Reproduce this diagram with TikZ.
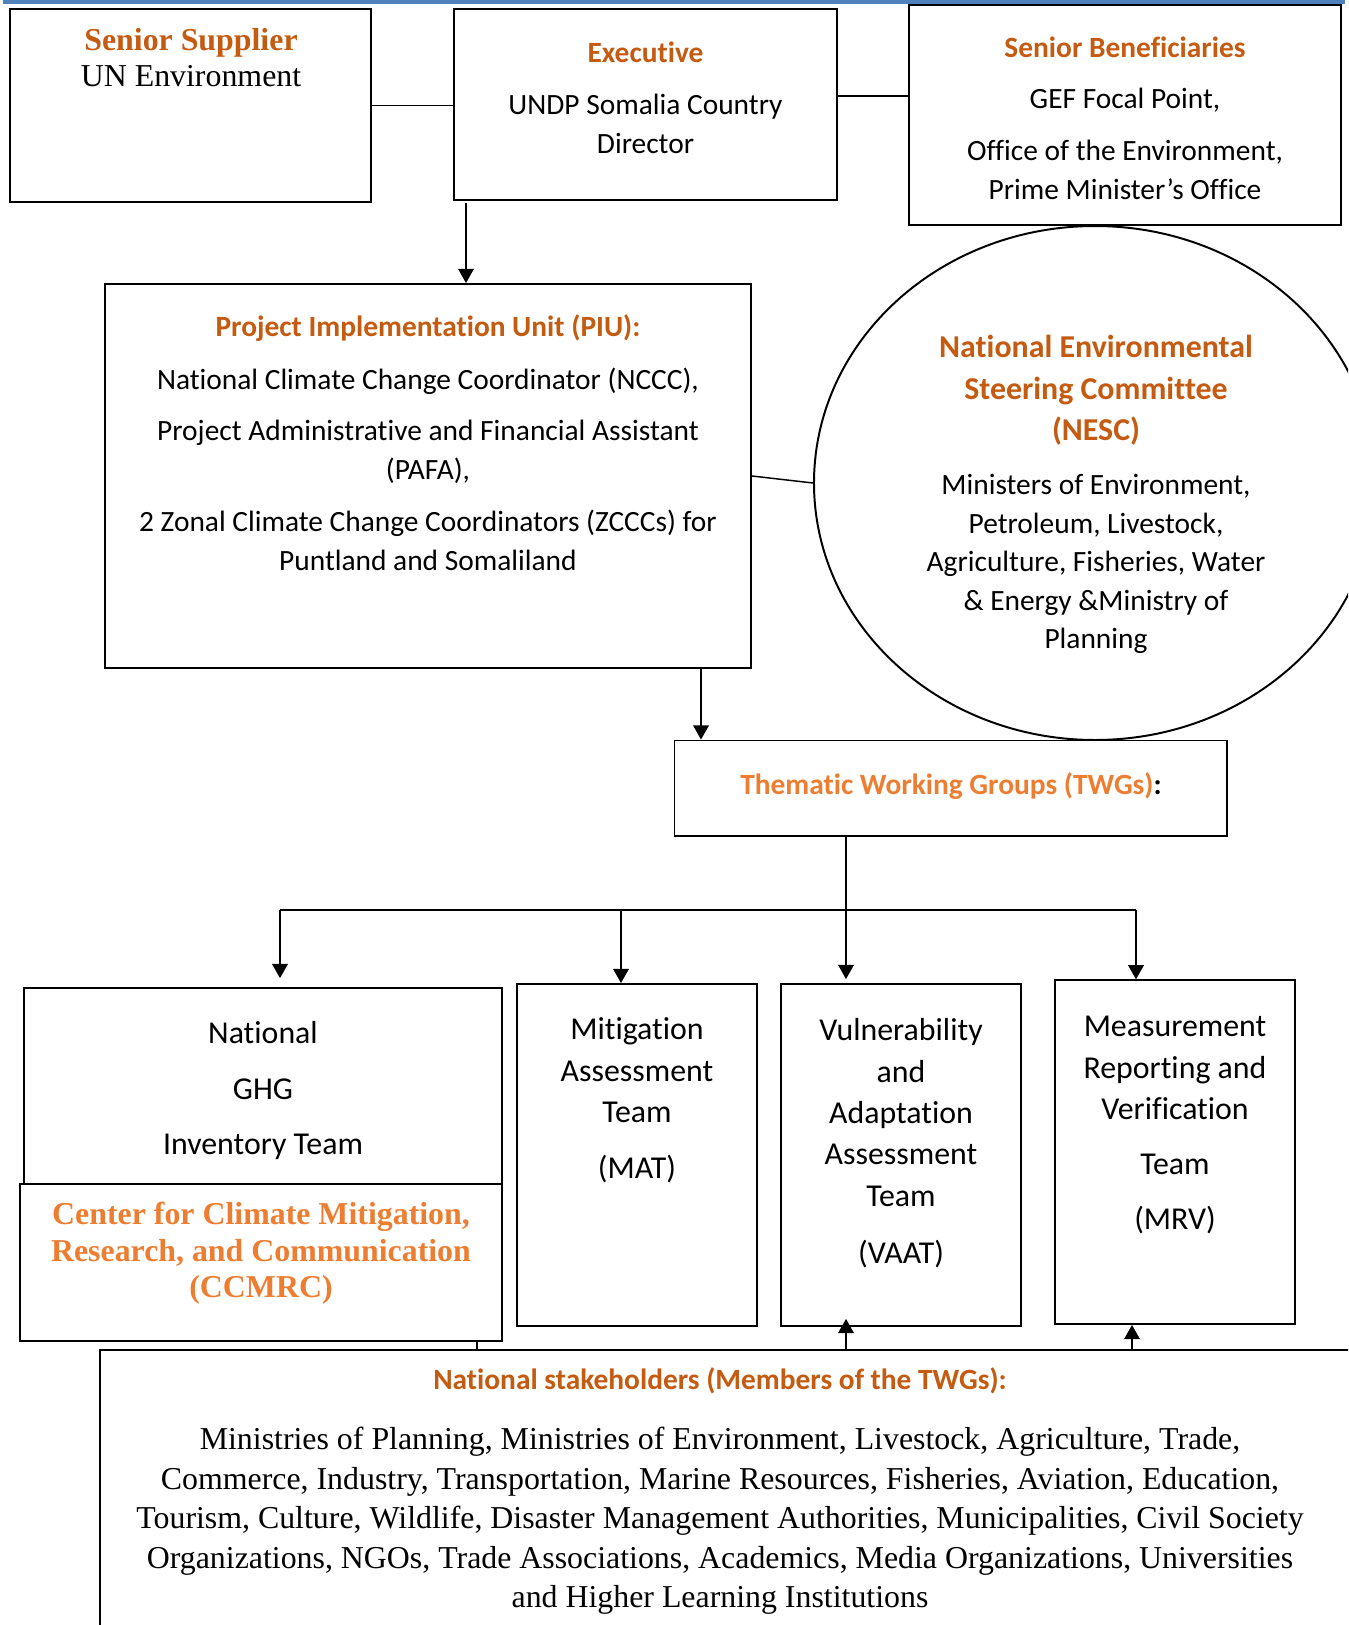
\documentclass[tikz,border=0pt]{standalone}
\usepackage{fontspec}
\setmainfont{Carlito}[Ligatures=NoCommon]
\newfontfamily\tnr{Liberation Serif}
\usepackage{xcolor}
\usetikzlibrary{arrows.meta,fit,shapes.geometric}
\definecolor{dorange}{HTML}{C55A11}
\definecolor{lorange}{HTML}{ED7D31}
\definecolor{hdrblue}{HTML}{4F81BD}
\tikzset{>={Triangle[width=6.4pt,length=5.8pt]}}
\tikzset{box/.style={draw,line width=0.8pt,inner sep=0pt},
  txt/.style={anchor=north,align=center,inner sep=0pt},
  link/.style={line width=0.6pt}}

\begin{document}
\begin{tikzpicture}[x=0.408pt,y=-0.408pt]
\useasboundingbox (0,0) rectangle (1348,1625);
\clip (0,0) rectangle (1348,1625);
\fill[hdrblue] (3,0) rectangle (1345,4);

\node[box,fit={(10,9) (371,202)}] (ss) {};
\node[box,fit={(454,9) (837,199.7)}] (exec) {};
\node[box,fit={(909,5) (1341,225)}] (sb) {};
\node[box,fit={(104.7,284) (751,668)}] (piu) {};
\node[box,ellipse,minimum width=229.3pt,minimum height=209.7pt] (nesc) at (1095,483) {};
\node[box,fit={(674.5,740.5) (1227,836)}] (twg) {};
\node[box,fit={(24,987.7) (501.7,1183.5)}] (ghg) {};
\node[box,fit={(20,1183.7) (501.7,1340.7)}] (ccmrc) {};
\node[box,fit={(517.3,984) (757,1326)}] (mat) {};
\node[box,fit={(781,983.7) (1021,1326)}] (vaat) {};
\node[box,fit={(1055,980.3) (1295,1324)}] (mrv) {};
\node[box,fit={(100,1350) (1360,1640)}] (nsh) {};

\node[txt,font=\tnr\fontsize{13}{14.8}\selectfont] (sstext) at (191,28)
  {{\bfseries\color{dorange}Senior Supplier}\\UN Environment};
\node[txt,font=\fontsize{12}{16.1}\selectfont] (exectext) at (645.5,41)
  {{\bfseries\color{dorange}Executive}\\[5.1pt]UNDP Somalia Country\\Director};
\node[txt,font=\fontsize{12}{15.8}\selectfont] (sbtext) at (1125,36)
  {{\bfseries\color{dorange}Senior Beneficiaries}\\[5.3pt]GEF Focal Point,\\[5.3pt]Office of the Environment,\\Prime Minister’s Office};
\node[txt,font=\fontsize{12}{16}\selectfont] (piutext) at (428,314)
  {{\bfseries\color{dorange}Project Implementation Unit (PIU):}\\[5.6pt]National Climate Change Coordinator (NCCC),\\[4.8pt]Project Administrative and Financial Assistant\\(PAFA),\\[5.2pt]2 Zonal Climate Change Coordinators (ZCCCs) for\\Puntland and Somaliland};
\node[txt,font=\fontsize{13}{16.8}\selectfont\bfseries,text=dorange] (nesctitle) at (1096,335)
  {National Environmental\\Steering Committee\\(NESC)};
\node[txt,font=\fontsize{12}{15.7}\selectfont] (nesctext) at (1096,474)
  {Ministers of Environment,\\Petroleum, Livestock,\\Agriculture, Fisheries, Water\\\& Energy \&Ministry of\\Planning};
\node[txt,font=\fontsize{12}{16}\selectfont\bfseries] (twgtext) at (951,772)
  {{\color{lorange}Thematic Working Groups (TWGs)}:};
\node[txt,font=\fontsize{13}{22.6}\selectfont] (ghgtext) at (263,1021)
  {National\\GHG\\Inventory Team};
\node[txt,font=\tnr\fontsize{13}{14.9}\selectfont\bfseries,text=lorange] (ccmrctext) at (261,1202)
  {Center for Climate Mitigation,\\Research, and Communication\\(CCMRC)};
\node[txt,font=\fontsize{13}{16.9}\selectfont] (mattext) at (637,1017.5)
  {Mitigation\\Assessment\\Team\\[5.9pt](MAT)};
\node[txt,font=\fontsize{13}{16.9}\selectfont] (vaattext) at (901,1018)
  {Vulnerability\\and\\Adaptation\\Assessment\\Team\\[6.3pt](VAAT)};
\node[txt,font=\fontsize{13}{16.9}\selectfont] (mrvtext) at (1175,1016)
  {Measurement\\Reporting and\\Verification\\[5.5pt]Team\\[5.5pt](MRV)};
\node[txt,font=\fontsize{12}{16}\selectfont\bfseries,text=dorange] (nshtitle) at (720,1367)
  {National stakeholders (Members of the TWGs):};
\node[txt,font=\tnr\fontsize{13}{16.1}\selectfont] (nshtext) at (720,1427)
  {Ministries of Planning, Ministries of Environment, Livestock, Agriculture, Trade,\\
   Commerce, Industry, Transportation, Marine Resources, Fisheries, Aviation, Education,\\
   Tourism, Culture, Wildlife, Disaster Management Authorities, Municipalities, Civil Society\\
   Organizations, NGOs, Trade Associations, Academics, Media Organizations, Universities\\
   and Higher Learning Institutions};

\coordinate (es) at (873,96);
\coordinate (ep) at (466,203);
\coordinate (pt) at (701,700);
\coordinate (busl) at (280,910);
\coordinate (busm) at (621,910);
\coordinate (busv) at (846,910);
\coordinate (busr) at (1136,910);
\coordinate (nm) at (1132,1340);
\coordinate (nc) at (477,1345);

\draw[link] (ss.east) -- (ss.east -| exec.west);
\draw[link] (exec.east |- es) -- (sb.west |- es);
\draw[link,->] (ep) -- (ep |- piu.north);
\draw[link] (piu.east) -- (nesc.west);
\draw[link,->] (piu.south -| pt) -- (pt |- twg.north);
\draw[link] (busl) -- (busr);
\draw[link,->,shorten >=3.5pt] (busl) -- (busl |- ghg.north);
\draw[link,->] (busm) -- (busm |- mat.north);
\draw[link,->,shorten >=1.5pt] (twg.south -| busv) -- (busv |- vaat.north);
\draw[link,->] (busr) -- (busr |- mrv.north);
\draw[link,->,shorten >=-3.3pt] (nsh.north -| busv) -- (busv |- vaat.south);
\draw[link,->] (nsh.north -| nm) -- (nm |- mrv.south);
\draw[link] (ccmrc.south -| nc) -- (nsh.north -| nc);
\end{tikzpicture}
\end{document}
